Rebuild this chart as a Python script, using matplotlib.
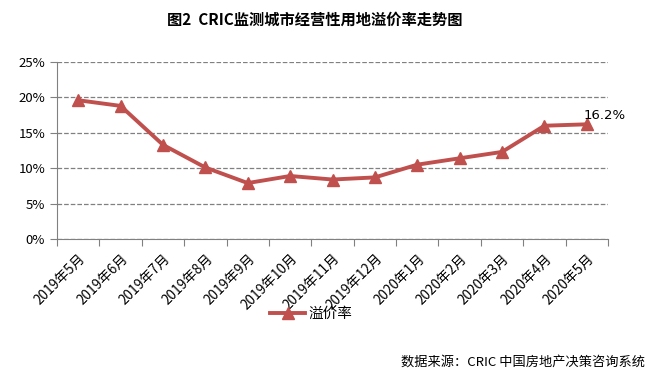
import numpy as np
import matplotlib.pyplot as plt
from matplotlib.ticker import FuncFormatter

plt.rcParams['font.family'] = ['Noto Sans CJK SC', 'DejaVu Sans']

months = ['2019年5月', '2019年6月', '2019年7月', '2019年8月', '2019年9月',
          '2019年10月', '2019年11月', '2019年12月', '2020年1月', '2020年2月',
          '2020年3月', '2020年4月', '2020年5月']
premium = [19.6, 18.8, 13.3, 10.1, 7.9, 8.9, 8.4, 8.7, 10.5, 11.4, 12.3, 16.0, 16.2]

fig = plt.figure(figsize=(6.56, 3.73), dpi=100)
ax = fig.add_axes([57/656, 1 - 239/373, (608 - 57)/656, (239 - 62)/373])

x = np.arange(len(months))
ax.plot(x, premium, color='#C0504D', lw=2.8, marker='^', ms=8,
        label='溢价率', zorder=3)
ax.annotate(f'{premium[-1]:.1f}%', (x[-1], premium[-1]), xytext=(-2, 4),
            textcoords='offset points', fontsize=9.5, family='DejaVu Sans')

ax.set_xlim(-0.5, len(months) - 0.5)
ax.set_ylim(0, 25)
ax.set_yticks(np.arange(0, 26, 5))
ax.yaxis.set_major_formatter(FuncFormatter(lambda v, p: f'{v:.0f}%'))
ax.yaxis.grid(True, ls='--', color='#808080', lw=0.9)
ax.set_axisbelow(True)

ax.set_xticks(np.arange(len(months) + 1) - 0.5)
ax.set_xticklabels([])
ax.set_xticks(x, minor=True)
ax.set_xticklabels(months, minor=True, rotation=45, ha='right',
                   rotation_mode='anchor', fontsize=9.8)
ax.tick_params(axis='x', which='minor', length=0, pad=9)
ax.tick_params(axis='x', which='major', length=5, color='#808080')
ax.tick_params(axis='y', length=5, color='#808080', labelsize=9.5)

for s in ['top', 'right']:
    ax.spines[s].set_visible(False)
for s in ['left', 'bottom']:
    ax.spines[s].set_color('#808080')

fig.legend(loc='center', bbox_to_anchor=(311/656, 1 - 314/373), frameon=False,
           fontsize=10.5, handlelength=2.4, handletextpad=0.2)

fig.text(315/656, 1 - 20/373, '图2  CRIC监测城市经营性用地溢价率走势图', ha='center',
         va='center', fontsize=11, fontweight='bold')
fig.text(645/656, 1 - 362/373, '数据来源：CRIC 中国房地产决策咨询系统', ha='right',
         va='center', fontsize=9.5)

fig.savefig('out.png', dpi=100)
